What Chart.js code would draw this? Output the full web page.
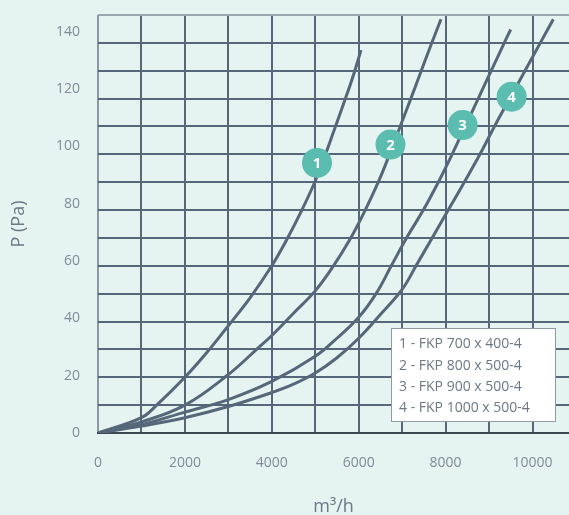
<!DOCTYPE html>
<html>
<head>
<meta charset="utf-8">
<script src="https://cdn.jsdelivr.net/npm/chart.js@4.4.1/dist/chart.umd.min.js"></script>
<style>
  html, body { margin:0; padding:0; background:#e6f4f1; }
  #wrap { width:569px; height:515px; position:relative; }
</style>
</head>
<body>
<div id="wrap"><canvas id="chart"></canvas></div>
<script>
// air flow (m3/h) and pressure drop (Pa)
const flow1 = [0, 1000, 1350, 2000, 2500, 3000, 3500, 4000, 4330, 4660, 4960, 5200, 5430, 5660, 5880, 6053];
const pres1 = [0, 5.5, 10, 20, 28.8, 38.5, 48.5, 60, 69, 79, 89, 98.5, 108.5, 118.5, 128.5, 137.4];

const flow2 = [0, 1000, 2000, 3000, 3650, 4000, 4500, 5000, 5400, 5800, 6150, 6450, 6710, 6955, 7200, 7440, 7670, 7894];
const pres2 = [0, 4, 10, 21, 30, 35, 43, 51, 59.5, 69.5, 80, 90, 100, 110, 120, 130, 139.5, 148.5];

const flow3 = [0, 1000, 2000, 3000, 4000, 5000, 5500, 6000, 6400, 6750, 7120, 7487, 7832, 8150, 8450, 8750, 9050, 9350, 9498];
const pres3 = [0, 3, 7.5, 12, 18.5, 27.5, 34, 41.5, 50, 60, 70.5, 80, 90, 100, 110, 120, 130, 140, 144.8];

const flow4 = [0, 1000, 2000, 3000, 4000, 4500, 5000, 5500, 6000, 6500, 7000, 7320, 7690, 8060, 8430, 8790, 9124, 9476, 9828, 10180, 10479];
const pres4 = [0, 2.5, 5.5, 9.5, 14.5, 17.5, 21.5, 27, 34, 42.5, 51.5, 60, 70, 80, 90, 100, 110, 120, 130, 140, 148.5];

const seriesNames = ['1 - FKP 700 x 400-4', '2 - FKP 800 x 500-4', '3 - FKP 900 x 500-4', '4 - FKP 1000 x 500-4'];

// numbered markers sitting on the curves
const badgeText = ['1', '2', '3', '4'];
const badgeFlow = [5040, 6731, 8392, 9520];
const badgePres = [96.9, 103.5, 110.5, 120.7];

// grid lines and tick labels
const xGrid = [0, 1000, 2000, 3000, 4000, 5000, 6000, 7000, 8000, 9000, 10000];
const xLabels = [0, 2000, 4000, 6000, 8000, 10000];
const yGrid = [0, 10, 20, 30, 40, 50, 60, 70, 80, 90, 100, 110, 120, 130, 140, 150];
const yLabels = [0, 20, 40, 60, 80, 100, 120, 140];

const xMax = 10840;
const yMax = 150;
const yLabelMax = 145.9; // tick labels in the source are spaced a bit wider than the grid
const xTitle = 'm³/h';
const yTitle = 'P (Pa)';

const LINE = '#56677a';
const TICK = '#7f8c98';
const TEAL = '#5bbcb0';
const FONT = "'Open Sans', sans-serif";

function pts(xs, ys){ return xs.map((x, i) => ({ x, y: ys[i] })); }
function setTicks(list){ return s => { s.ticks = list.map(v => ({ value: v })); }; }
function noPad(s){ s.paddingTop = 0; s.paddingBottom = 0; s.paddingLeft = 0; s.paddingRight = 0; }

const curves = [[flow1, pres1], [flow2, pres2], [flow3, pres3], [flow4, pres4]].map((c, i) => ({
  label: seriesNames[i],
  data: pts(c[0], c[1]),
  borderColor: LINE,
  borderWidth: 3,
  pointRadius: 0,
  tension: 0.4,
  fill: false,
  order: 1
}));

const badges = {
  label: 'badges',
  data: pts(badgeFlow, badgePres),
  showLine: false,
  pointRadius: 15,
  pointHoverRadius: 15,
  pointBackgroundColor: TEAL,
  pointBorderWidth: 0,
  order: 0
};

const badgeLabels = {
  id: 'badgeLabels',
  afterDatasetsDraw(chart){
    const ctx = chart.ctx;
    const meta = chart.getDatasetMeta(0);
    ctx.save();
    ctx.fillStyle = '#ffffff';
    ctx.font = `bold 15px ${FONT}`;
    ctx.textAlign = 'center';
    ctx.textBaseline = 'middle';
    meta.data.forEach((p, i) => ctx.fillText(badgeText[i], p.x, p.y + 1));
    ctx.restore();
  }
};

const legendBox = {
  id: 'legendBox',
  afterDraw(chart){
    const ctx = chart.ctx;
    const x = 391, y = 328, w = 165, h = 94;
    ctx.save();
    ctx.fillStyle = '#ffffff';
    ctx.fillRect(x, y, w, h);
    ctx.strokeStyle = '#8d9ba6';
    ctx.lineWidth = 1;
    ctx.strokeRect(x + 0.5, y + 0.5, w - 1, h - 1);
    ctx.fillStyle = '#6b7886';
    ctx.font = `14px ${FONT}`;
    ctx.textBaseline = 'middle';
    seriesNames.forEach((s, i) => ctx.fillText(s, x + 8, y + 16.5 + i * 21.3));
    ctx.restore();
  }
};

new Chart(document.getElementById('chart'), {
  type: 'line',
  data: { datasets: [badges, ...curves] },
  options: {
    responsive: true,
    maintainAspectRatio: false,
    animation: false,
    layout: { autoPadding: false, padding: { top: 15, right: 0, left: 0, bottom: 0 } },
    plugins: { legend: { display: false }, tooltip: { enabled: false } },
    events: [],
    scales: {
      x: {
        type: 'linear',
        min: 0, max: xMax,
        afterBuildTicks: setTicks(xGrid),
        afterFit(s){ s.height = 82; noPad(s); },
        grid: {
          drawTicks: false,
          lineWidth: 2,
          color: c => c.tick && c.tick.value === 0 ? '#8a9aa5' : LINE
        },
        border: { display: true, color: '#3b4752', width: 2 },
        ticks: {
          autoSkip: false,
          maxRotation: 0,
          padding: 22,
          color: TICK,
          font: { family: FONT, size: 14 },
          callback: v => xLabels.includes(v) ? String(v) : ''
        },
        title: {
          display: true, text: xTitle, color: '#6b7886',
          font: { family: FONT, size: 18, lineHeight: 1 },
          padding: { top: 0, bottom: -1 }
        }
      },
      y: {
        type: 'linear',
        position: 'left',
        min: 0, max: yMax,
        afterBuildTicks: setTicks(yGrid),
        afterFit(s){ s.width = 0; noPad(s); },
        grid: {
          drawTicks: false,
          lineWidth: 2,
          color: c => {
            if (!c.tick) return LINE;
            if (c.tick.value === yMax) return '#9aa9b1';
            if (c.tick.value === 0) return '#3b4752';
            return LINE;
          }
        },
        border: { display: false },
        ticks: { display: false }
      },
      yLabels: {
        type: 'linear',
        position: 'left',
        min: 0, max: yLabelMax,
        afterBuildTicks: setTicks(yLabels),
        afterFit(s){ s.width = 98; noPad(s); },
        grid: { display: false, drawTicks: false },
        border: { display: false },
        ticks: {
          padding: 18,
          color: TICK,
          font: { family: FONT, size: 14 }
        },
        title: {
          display: true, text: yTitle, color: '#6b7886',
          font: { family: FONT, size: 18, lineHeight: 1 },
          padding: { top: 10, bottom: 0 }
        }
      }
    }
  },
  plugins: [badgeLabels, legendBox]
});
</script>
</body>
</html>
